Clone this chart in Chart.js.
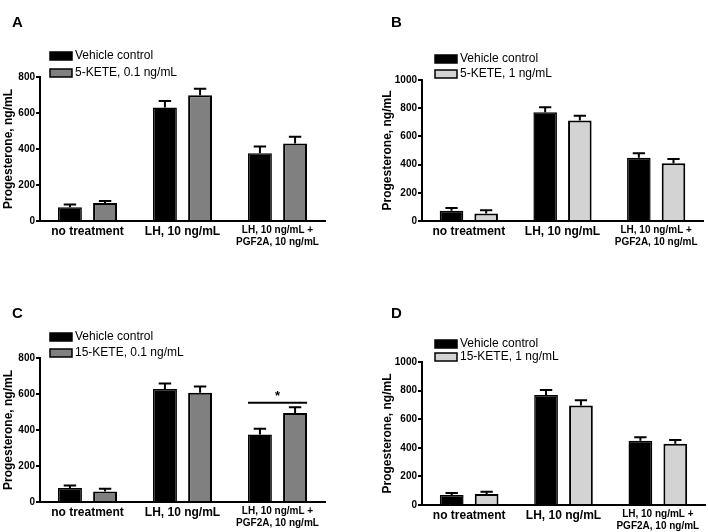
<!DOCTYPE html>
<html>
<head>
<meta charset="utf-8">
<script src="https://cdn.jsdelivr.net/npm/chart.js@4"></script>
<style>
  body { margin: 0; background: #fff; }
  #fig { position: relative; width: 708px; height: 532px; }
  .panel { position: absolute; width: 354px; height: 266px; }
  .letter { position: absolute; font: bold 15px "Liberation Sans", Arial, sans-serif; color: #000; }
</style>
</head>
<body>
<div id="fig">
  <div class="panel" style="left:0;top:0"><canvas id="cA"></canvas></div>
  <div class="panel" style="left:354px;top:0"><canvas id="cB"></canvas></div>
  <div class="panel" style="left:0;top:266px"><canvas id="cC"></canvas></div>
  <div class="panel" style="left:354px;top:266px"><canvas id="cD"></canvas></div>
  <div class="letter" style="left:12px;top:13px">A</div>
  <div class="letter" style="left:391px;top:13px">B</div>
  <div class="letter" style="left:12px;top:304px">C</div>
  <div class="letter" style="left:391px;top:304px">D</div>
</div>
<script>
// categories
const categories = ['no treatment', 'LH, 10 ng/mL', ['LH, 10 ng/mL +', 'PGF2A, 10 ng/mL']];

// A: 5-KETE 0.1
const vehA = [76, 631, 377];
const vehAErr = [15, 35, 37];
const keteA = [100, 698, 430];
const keteAErr = [11, 37, 38];

// B: 5-KETE 1
const vehB = [73, 771, 449];
const vehBErr = [19, 35, 31];
const keteB = [54, 712, 409];
const keteBErr = [22, 35, 31];

// C: 15-KETE 0.1
const vehC = [78, 628, 375];
const vehCErr = [13, 31, 32];
const keteC = [59, 607, 495];
const keteCErr = [15, 34, 32];

// D: 15-KETE 1
const vehD = [70, 769, 449];
const vehDErr = [14, 35, 24];
const keteD = [77, 695, 429];
const keteDErr = [16, 37, 26];

const FONT = '"Liberation Sans", Arial, sans-serif';

// error bars (upward only, centered cap)
const errorBars = {
  id: 'errorBars',
  afterDatasetsDraw(chart) {
    const ctx = chart.ctx;
    const y = chart.scales.y;
    chart.data.datasets.forEach((ds, i) => {
      const meta = chart.getDatasetMeta(i);
      meta.data.forEach((bar, j) => {
        const top = y.getPixelForValue(ds.data[j] + ds.err[j]);
        const half = bar.width * 0.26;
        ctx.save();
        ctx.strokeStyle = '#000';
        ctx.lineWidth = 2;
        ctx.beginPath();
        ctx.moveTo(bar.x, bar.y);
        ctx.lineTo(bar.x, top);
        ctx.moveTo(bar.x - half, top);
        ctx.lineTo(bar.x + half, top);
        ctx.stroke();
        ctx.restore();
      });
    });
  }
};

// legend drawn at fixed spot above the plot
const boxLegend = {
  id: 'boxLegend',
  afterDraw(chart, args, opts) {
    const ctx = chart.ctx;
    ctx.save();
    ctx.font = '12px ' + FONT;
    ctx.textBaseline = 'middle';
    chart.data.datasets.forEach((ds, i) => {
      const yy = opts.y + i * opts.gap;
      ctx.fillStyle = ds.backgroundColor;
      ctx.fillRect(opts.x, yy - 4, 22, 8);
      ctx.strokeStyle = '#000';
      ctx.lineWidth = 1.5;
      ctx.strokeRect(opts.x, yy - 4, 22, 8);
      ctx.fillStyle = '#000';
      ctx.fillText(ds.label, opts.x + 25, yy);
    });
    ctx.restore();
  }
};

// significance marker (panel C)
const sigMark = {
  id: 'sigMark',
  afterDraw(chart, args, opts) {
    if (!opts.value) return;
    const ctx = chart.ctx;
    const y = chart.scales.y;
    const m0 = chart.getDatasetMeta(0).data[opts.index];
    const m1 = chart.getDatasetMeta(1).data[opts.index];
    const py = y.getPixelForValue(opts.value);
    ctx.save();
    ctx.strokeStyle = '#000';
    ctx.lineWidth = 2;
    ctx.beginPath();
    ctx.moveTo(m0.x - m0.width / 2, py);
    ctx.lineTo(m1.x + m1.width / 2, py);
    ctx.stroke();
    ctx.fillStyle = '#000';
    ctx.font = 'bold 13px ' + FONT;
    ctx.textAlign = 'center';
    ctx.textBaseline = 'middle';
    ctx.fillText('*', (m0.x + m1.x) / 2, py - 6);
    ctx.restore();
  }
};

function makeChart(id, cfg) {
  const ctx = document.getElementById(id);
  return new Chart(ctx, {
    type: 'bar',
    data: {
      labels: categories,
      datasets: [
        { label: 'Vehicle control', data: cfg.veh, err: cfg.vehErr,
          backgroundColor: '#000000', borderColor: '#000', borderWidth: 1.5 },
        { label: cfg.label, data: cfg.kete, err: cfg.keteErr,
          backgroundColor: cfg.color, borderColor: '#000', borderWidth: 2 }
      ]
    },
    options: {
      responsive: false,
      animation: false,
      devicePixelRatio: 1,
      layout: { padding: { left: cfg.padL, right: 354 - cfg.right, top: cfg.top, bottom: 0 } },
      plugins: {
        legend: { display: false },
        tooltip: { enabled: false },
        boxLegend: { x: cfg.legX, y: cfg.legY, gap: cfg.legGap },
        sigMark: cfg.sig || {}
      },
      datasets: { bar: { categoryPercentage: 0.74, barPercentage: 0.68 } },
      scales: {
        x: {
          afterFit: s => { s.height = 266 - cfg.bottom; },
          grid: { drawOnChartArea: false, drawTicks: false },
          border: { color: '#000', width: 2 },
          ticks: {
            color: '#000', padding: 3, maxRotation: 0, autoSkip: false,
            font: c => ({ family: FONT, weight: 'bold', size: c.index === 2 ? 10 : 12, lineHeight: 1.2 })
          }
        },
        y: {
          min: 0, max: cfg.max,
          afterFit: s => { s.width = cfg.left - cfg.padL; },
          grid: { drawOnChartArea: false, drawTicks: true, tickLength: 4, color: '#000', lineWidth: 2 },
          border: { color: '#000', width: 2 },
          ticks: { stepSize: 200, color: '#000', padding: 1, callback: v => String(v),
                   font: { family: FONT, weight: 'bold', size: 10 } },
          title: { display: true, text: 'Progesterone, ng/mL', color: '#000', padding: { top: 0, bottom: 0 },
                   font: { family: FONT, weight: 'bold', size: 12, lineHeight: 1 } }
        }
      }
    },
    plugins: [errorBars, boxLegend, sigMark]
  });
}

function sizeCanvas(id) {
  const c = document.getElementById(id);
  c.width = 354; c.height = 266;
  c.style.width = '354px'; c.style.height = '266px';
}
['cA', 'cB', 'cC', 'cD'].forEach(sizeCanvas);

makeChart('cA', { veh: vehA, vehErr: vehAErr, kete: keteA, keteErr: keteAErr,
  label: '5-KETE, 0.1 ng/mL', color: '#808080', max: 800, padL: 3,
  left: 40, right: 325, top: 77, bottom: 221, legX: 50, legY: 56, legGap: 17 });
makeChart('cB', { veh: vehB, vehErr: vehBErr, kete: keteB, keteErr: keteBErr,
  label: '5-KETE, 1 ng/mL', color: '#d3d3d3', max: 1000, padL: 28,
  left: 68, right: 349, top: 80, bottom: 221, legX: 81, legY: 59, legGap: 15 });
makeChart('cC', { veh: vehC, vehErr: vehCErr, kete: keteC, keteErr: keteCErr,
  label: '15-KETE, 0.1 ng/mL', color: '#808080', max: 800, padL: 3,
  left: 40, right: 325, top: 92, bottom: 236, legX: 50, legY: 71, legGap: 16,
  sig: { index: 2, value: 551 } });
makeChart('cD', { veh: vehD, vehErr: vehDErr, kete: keteD, keteErr: keteDErr,
  label: '15-KETE, 1 ng/mL', color: '#d3d3d3', max: 1000, padL: 28,
  left: 68, right: 351, top: 96, bottom: 239, legX: 81, legY: 78, legGap: 13 });
</script>
</body>
</html>
